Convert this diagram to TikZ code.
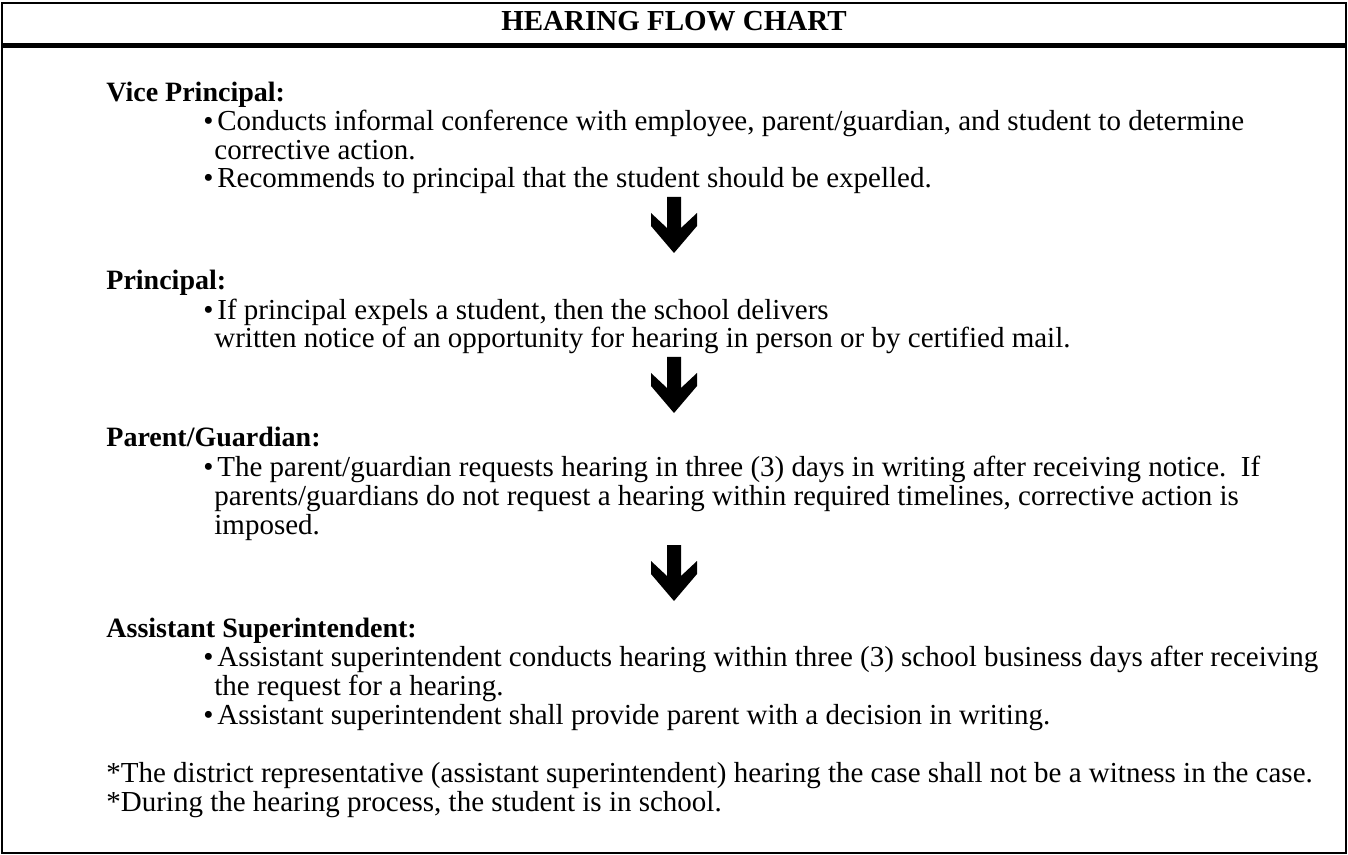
\documentclass[tikz,border=0pt]{standalone}
\usepackage{fontspec}
\setmainfont{Liberation Serif}
\usetikzlibrary{positioning}
\newcommand\bulletmark{\makebox[7pt][l]{\textbullet}}
\tikzset{
  frame/.style={draw, line width=1pt},
  heading/.style={font=\bfseries\fontsize{14.5}{17}\selectfont, inner sep=0pt, anchor=base},
  role/.style={font=\bfseries\fontsize{14}{16}\selectfont, inner sep=0pt, anchor=base west},
  item/.style={font=\fontsize{14.5}{16}\selectfont, inner sep=0pt, anchor=base west},
  downarrow/.pic={
    \fill (-7,0) -- (7,0) -- (7,31) -- (23,16) -- (23,29) -- (0,56)
      -- (-23,29) -- (-23,16) -- (-7,31) -- cycle;
  },
}

\begin{document}
\begin{tikzpicture}[x=0.5pt, y=-0.5pt]
    \useasboundingbox (0,0) rectangle (1348,855);
    \draw[frame] (2,3) rectangle (1346,853);
    \draw[line width=2.5pt] (2,45.5) -- (1346,45.5);
    \node[heading] (title) at (674,31) {HEARING FLOW CHART};

    % vice principal
    \node[role] (vp) at (106,102) {Vice Principal:};
    \node[item] (vp1) at (203,131) {\bulletmark Conducts informal conference with employee, parent/guardian, and student to determine};
    \node[item] (vp1b) at (214,160) {corrective action.};
    \node[item] (vp2) at (203,188) {\bulletmark Recommends to principal that the student should be expelled.};
    \pic (a1) at (674,197) {downarrow};

    % principal
    \node[role] (pr) at (106,290) {Principal:};
    \node[item] (pr1) at (203,320) {\bulletmark If principal expels a student, then the school delivers};
    \node[item] (pr1b) at (214,348) {written notice of an opportunity for hearing in person or by certified mail.};
    \pic (a2) at (674,357) {downarrow};

    % parent
    \node[role] (pg) at (106,446) {Parent/Guardian:};
    \node[item] (pg1) at (203,476) {\bulletmark The parent/guardian requests hearing in three (3) days in writing after receiving notice.\ \ If};
    \node[item] (pg1b) at (214,505) {parents/guardians do not request a hearing within required timelines, corrective action is};
    \node[item] (pg1c) at (214,534) {imposed.};
    \pic (a3) at (674,545) {downarrow};

    % assistant superintendent
    \node[role] (as) at (106,637) {Assistant Superintendent:};
    \node[item] (as1) at (203,666) {\bulletmark Assistant superintendent conducts hearing within three (3) school business days after receiving};
    \node[item] (as1b) at (214,695) {the request for a hearing.};
    \node[item] (as2) at (203,724) {\bulletmark Assistant superintendent shall provide parent with a decision in writing.};

    \node[item] (fn1) at (106,782) {*The district representative (assistant superintendent) hearing the case shall not be a witness in the case.};
    \node[item] (fn2) at (106,811) {*During the hearing process, the student is in school.};
  \end{tikzpicture}
\end{document}
